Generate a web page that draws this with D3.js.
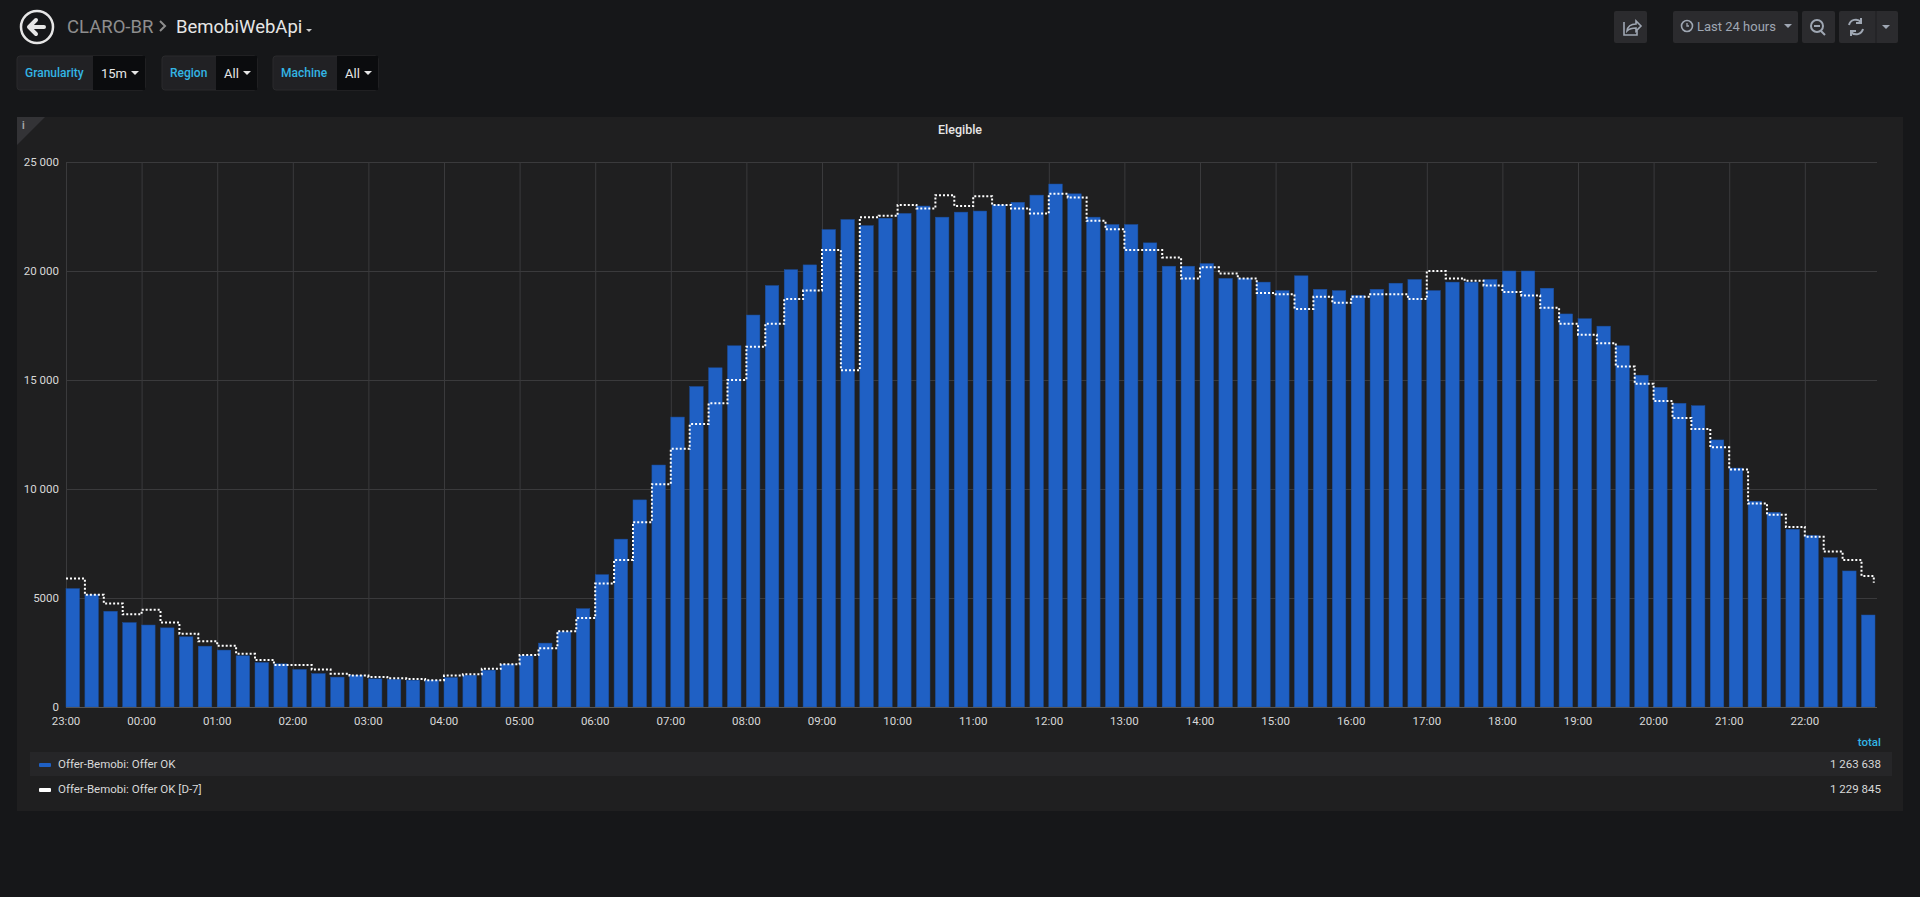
<!DOCTYPE html>
<html><head><meta charset="utf-8">
<script src="https://cdn.jsdelivr.net/npm/d3@7/dist/d3.min.js"></script>
<style>
body{margin:0;background:#161719;font-family:Roboto,"Open Sans",sans-serif;overflow:hidden}
</style></head><body>
<svg id="c" width="1920" height="897"></svg>
<script>
const tickLabels=["23:00","00:00","01:00","02:00","03:00","04:00","05:00","06:00","07:00","08:00","09:00","10:00","11:00","12:00","13:00","14:00","15:00","16:00","17:00","18:00","19:00","20:00","21:00","22:00"];
const offerOK=[5430,5150,4390,3870,3760,3630,3220,2790,2610,2350,2040,1980,1720,1530,1370,1460,1290,1270,1230,1230,1350,1460,1690,1960,2350,2930,3450,4510,6070,7700,9500,11100,13300,14700,15560,16570,17980,19330,20060,20280,21900,22360,22080,22420,22640,22980,22470,22700,22750,23030,23150,23480,23990,23540,22470,22130,22130,21290,20220,20220,20340,19660,19660,19490,19100,19780,19160,19100,18880,19160,19440,19610,19100,19490,19490,19610,20000,20000,19210,18030,17810,17470,16570,15220,14660,13930,13820,12250,10960,9440,8930,8150,7870,6850,6240,4220];
const offerOKD7=[5890,5150,4750,4250,4460,3880,3360,3020,2810,2440,2160,1930,1930,1720,1530,1440,1380,1320,1290,1230,1440,1500,1750,1960,2380,2700,3480,4080,5660,6740,8480,10220,11850,12980,13930,15000,16520,17580,18710,19100,20960,15450,22470,22530,23030,22870,23480,22980,23430,23030,22870,22640,23540,23370,22300,21910,20960,20960,20620,19660,20170,19890,19660,18990,18930,18260,18820,18540,18820,18930,18930,18710,20000,19660,19550,19330,19040,18880,18310,17580,17080,16690,15620,14830,14040,13260,12750,11910,10900,9330,8820,8260,7810,7130,6740,6010];
const yTicks=[0,5000,10000,15000,20000,25000];
const seriesNames=["Offer-Bemobi: Offer OK","Offer-Bemobi: Offer OK [D-7]"];
const totals=["1 263 638","1 229 845"];

const svg=d3.select("#c");
svg.append("circle").attr("cx",37).attr("cy",27).attr("r",16).attr("fill","none").attr("stroke","#e6e6e6").attr("stroke-width",2.5);
svg.append("path").attr("d","M44,27 H30 M36,20 L29,27 L36,34").attr("fill","none").attr("stroke","#e6e6e6").attr("stroke-width",4).attr("stroke-linecap","round").attr("stroke-linejoin","round");
svg.append("text").attr("x",67).attr("y",33).attr("fill","#8e8e8e").attr("font-size",18.5).text("CLARO-BR");
svg.append("path").attr("d","M160,21 l5,5 -5,5").attr("fill","none").attr("stroke","#8e8e8e").attr("stroke-width",2);
svg.append("text").attr("x",176).attr("y",33).attr("fill","#e6e6e6").attr("font-size",18.5).text("BemobiWebApi");
svg.append("path").attr("d","M306,29 h6 l-3,3z").attr("fill","#ccc");
[[17,"Granularity",93,"15m",145],[162,"Region",216,"All",257],[273,"Machine",337,"All",378]].forEach(([x,l,x2,v,x3])=>{
  svg.append("rect").attr("x",x).attr("y",56).attr("width",x3-x).attr("height",34).attr("rx",3).attr("fill","#212124").attr("stroke","#2a2a2c");
  svg.append("rect").attr("x",x2).attr("y",56).attr("width",x3-x2).attr("height",34).attr("fill","#0b0c0e");
  svg.append("text").attr("x",x+8).attr("y",77).attr("fill","#33b5e5").attr("font-size",12).attr("font-weight",500).text(l);
  svg.append("text").attr("x",x2+8).attr("y",78).attr("fill","#e6e6e6").attr("font-size",13).text(v);
  svg.append("path").attr("d",`M${x3-14},71 h8 l-4,4z`).attr("fill","#e6e6e6");
});
const btn=(x,w)=>svg.append("rect").attr("x",x).attr("y",11).attr("width",w).attr("height",32).attr("rx",2).attr("fill","#2b2b2e");
btn(1614,33);btn(1673,125);btn(1802,33);btn(1839,59);
svg.append("path").attr("d","M1624,22 v13 h13 v-5 M1627,31 q1,-7 9,-7 v-3 l5,5 -5,5 v-3 q-6,0 -9,3z").attr("fill","none").attr("stroke","#9fa7b3").attr("stroke-width",1.6);
svg.append("circle").attr("cx",1687).attr("cy",26).attr("r",5.5).attr("fill","none").attr("stroke","#9fa7b3").attr("stroke-width",1.6);
svg.append("path").attr("d","M1687,23 v3 h2").attr("stroke","#9fa7b3").attr("fill","none").attr("stroke-width",1.3);
svg.append("text").attr("x",1697).attr("y",31).attr("fill","#9fa7b3").attr("font-size",13).text("Last 24 hours");
svg.append("path").attr("d","M1784,24 h8 l-4,4z").attr("fill","#9fa7b3");
svg.append("circle").attr("cx",1817).attr("cy",26).attr("r",6).attr("fill","none").attr("stroke","#9fa7b3").attr("stroke-width",2);
svg.append("path").attr("d","M1814,26 h6 M1821,31 l4,4").attr("stroke","#9fa7b3").attr("stroke-width",2);
svg.append("path").attr("d","M1849,25 a7,7 0 0 1 12,-3 M1863,29 a7,7 0 0 1 -12,3 M1861,18 v5 h-5 M1851,36 v-5 h5").attr("fill","none").attr("stroke","#9fa7b3").attr("stroke-width",2);
svg.append("line").attr("x1",1876).attr("x2",1876).attr("y1",11).attr("y2",43).attr("stroke","#1e1e20");
svg.append("path").attr("d","M1882,25 h8 l-4,4z").attr("fill","#9fa7b3");

svg.append("rect").attr("x",17).attr("y",117).attr("width",1886).attr("height",694).attr("fill","#1f1f20");
svg.append("path").attr("d","M17,117 h28 l-28,28z").attr("fill","#333336");
svg.append("text").attr("x",22).attr("y",129).attr("fill","#aaa").attr("font-size",10).attr("font-weight",700).text("i");
svg.append("text").attr("x",960).attr("y",134).attr("text-anchor","middle").attr("fill","#e6e6e6").attr("font-size",12.5).attr("font-weight",500).text("Elegible");

const x0=66,pxPerHour=75.6, y0=707, yTop=162;
const x=d3.scaleLinear().domain([0,96]).range([x0,x0+96*pxPerHour/4]);
const y=d3.scaleLinear().domain([0,25000]).range([y0,yTop]);
const g=svg.append("g");
g.selectAll(".hg").data(yTicks).join("line").attr("x1",x0).attr("x2",1877).attr("y1",d=>y(d)+.5).attr("y2",d=>y(d)+.5).attr("stroke","#3a3a3c");
g.selectAll(".vg").data(tickLabels).join("line").attr("x1",(d,i)=>x(i*4)+.5).attr("x2",(d,i)=>x(i*4)+.5).attr("y1",yTop).attr("y2",y0).attr("stroke","#3a3a3c");
g.selectAll(".yl").data(yTicks).join("text").attr("x",59).attr("y",d=>y(d)+4).attr("text-anchor","end").attr("fill","#d8d8d8").attr("font-size",11.5).text(d=>d===0?"0":d>=10000?d3.format(",")(d).replace(","," "):String(d));
g.selectAll(".xl").data(tickLabels).join("text").attr("x",(d,i)=>x(i*4)).attr("y",725).attr("text-anchor","middle").attr("fill","#d8d8d8").attr("font-size",11.5).text(d=>d);
g.selectAll(".b").data(offerOK).join("rect").attr("x",(d,i)=>x(i)).attr("y",d=>y(d)).attr("width",13.5).attr("height",d=>y0-y(d)).attr("fill","#1f60c4").attr("stroke","#1a4f9f").attr("stroke-width",0.5);
const pts=offerOKD7.map((v,i)=>[i,v]); pts.push([95.65,offerOKD7[95]]);
const line=d3.line().x(d=>x(d[0])).y(d=>y(d[1])).curve(d3.curveStepAfter);
g.append("path").attr("d",line(pts)+`V${y(5700)}`).attr("fill","none").attr("stroke","#fff").attr("stroke-width",2).attr("stroke-dasharray","2,2");
g.append("line").attr("x1",x0).attr("x2",1877).attr("y1",y0+.5).attr("y2",y0+.5).attr("stroke","#555");

svg.append("text").attr("x",1881).attr("y",746).attr("text-anchor","end").attr("fill","#33b5e5").attr("font-size",11.5).attr("font-weight",500).text("total");
svg.append("rect").attr("x",30).attr("y",752).attr("width",1862).attr("height",24).attr("fill","#262628");
[0,1].forEach(i=>{
  const yy=768+i*25;
  svg.append("rect").attr("x",39).attr("y",yy-5).attr("width",12).attr("height",4).attr("rx",1).attr("fill",i?"#fff":"#1f60c4");
  svg.append("text").attr("x",58).attr("y",yy).attr("fill","#d8d8d8").attr("font-size",11.5).text(seriesNames[i]);
  svg.append("text").attr("x",1881).attr("y",yy).attr("text-anchor","end").attr("fill","#d8d8d8").attr("font-size",11.5).text(totals[i]);
});
</script></body></html>
